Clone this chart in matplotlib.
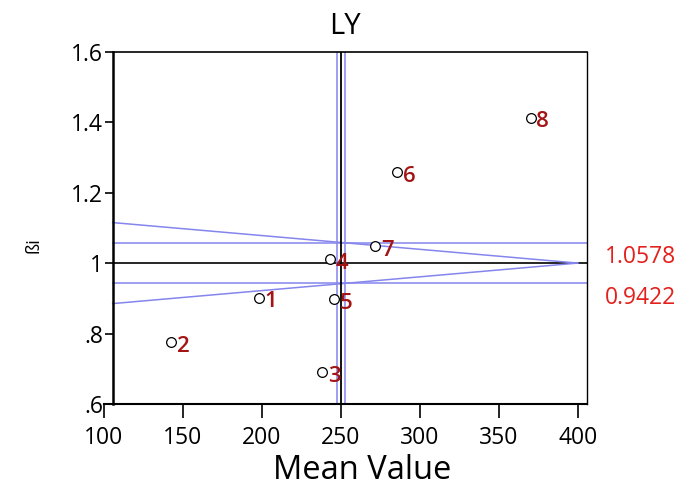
import matplotlib
matplotlib.use("Agg")
import matplotlib.pyplot as plt

plt.rcParams["font.family"] = ["Open Sans", "DejaVu Sans"]

# genotype points: mean value vs regression coefficient
labels = ["1", "2", "3", "4", "5", "6", "7", "8"]
mean_value = [198.2, 142.7, 238.3, 243.4, 245.7, 285.7, 271.8, 370.3]
beta = [0.902, 0.775, 0.690, 1.012, 0.898, 1.258, 1.048, 1.413]

# reference lines
grand_mean = 250.0
mean_band = [247.6, 252.4]
beta_band = [0.9422, 1.0578]
band_text = ["1.0578", "0.9422"]
slant_x = [105.5, 400]
slant_upper = [1.115, 1.0]
slant_lower = [0.885, 1.0]

xlo, xhi = 105.5, 405.7
ylo, yhi = 0.6, 1.6
xticks = [100, 150, 200, 250, 300, 350, 400]
yticks = [0.6, 0.8, 1.0, 1.2, 1.4, 1.6]
ytick_labels = [".6", ".8", "1", "1.2", "1.4", "1.6"]

blue = "#8585ee"

fig = plt.figure(figsize=(6.78, 4.9), dpi=100)
ax = fig.add_axes([104 / 678, 86 / 490, 482.7 / 678, 352.3 / 490])

# band lines
for b in beta_band:
    ax.plot([xlo, xhi], [b, b], color=blue, lw=1.1, zorder=2)
ax.plot([xlo, xhi], [1.0, 1.0], color="black", lw=1.2, zorder=2)
ax.plot(slant_x, slant_upper, color=blue, lw=1.1, zorder=2)
ax.plot(slant_x, slant_lower, color=blue, lw=1.1, zorder=2)
for m in mean_band:
    ax.plot([m, m], [ylo, yhi], color=blue, lw=1.1, zorder=2)
ax.plot([grand_mean, grand_mean], [ylo, yhi], color="black", lw=1.3, zorder=2)

# points
ax.plot(mean_value, beta, "o", mfc="white", mec="black", ms=7, mew=0.9,
        linestyle="none", zorder=3)
for lab, x, y in zip(labels, mean_value, beta):
    ax.annotate(lab, (x, y), xytext=(4, -3), textcoords="offset points",
                ha="left", va="center", fontsize=16, fontweight="semibold",
                color="#a51414", zorder=4)

ax.set_xlim(100, xhi)
ax.set_ylim(ylo, yhi)
ax.spines["left"].set_position(("data", xlo))
ax.spines["left"].set_linewidth(1.8)
ax.spines["bottom"].set_linewidth(1.5)
ax.spines["top"].set_visible(False)
ax.spines["right"].set_linewidth(1.0)
ax.plot([xlo, xhi], [yhi, yhi], color="black", lw=1.2, clip_on=False, zorder=5)

ax.set_xticks(xticks)
ax.set_yticks(yticks)
ax.set_yticklabels(ytick_labels)
ax.tick_params(axis="x", length=10, width=1.2, pad=6, labelsize=16.5)
ax.tick_params(axis="y", length=6, width=1.2, pad=1, labelsize=16.5)

ax.set_xlabel("Mean Value", fontsize=23.5)
ax.xaxis.set_label_coords(0.535, -0.142)
ax.set_title("LY", fontsize=21, pad=13)
fig.text(0.05, 0.50, "ßi", rotation=90, fontsize=13, ha="center", va="center")

# band values at the right
ax.text(1.038, 0.417, band_text[0], transform=ax.transAxes, color="#e3201c",
        fontsize=16.5, ha="left", va="center")
ax.text(1.038, 0.301, band_text[1], transform=ax.transAxes, color="#e3201c",
        fontsize=16.5, ha="left", va="center")

fig.savefig("out.png", dpi=100)
